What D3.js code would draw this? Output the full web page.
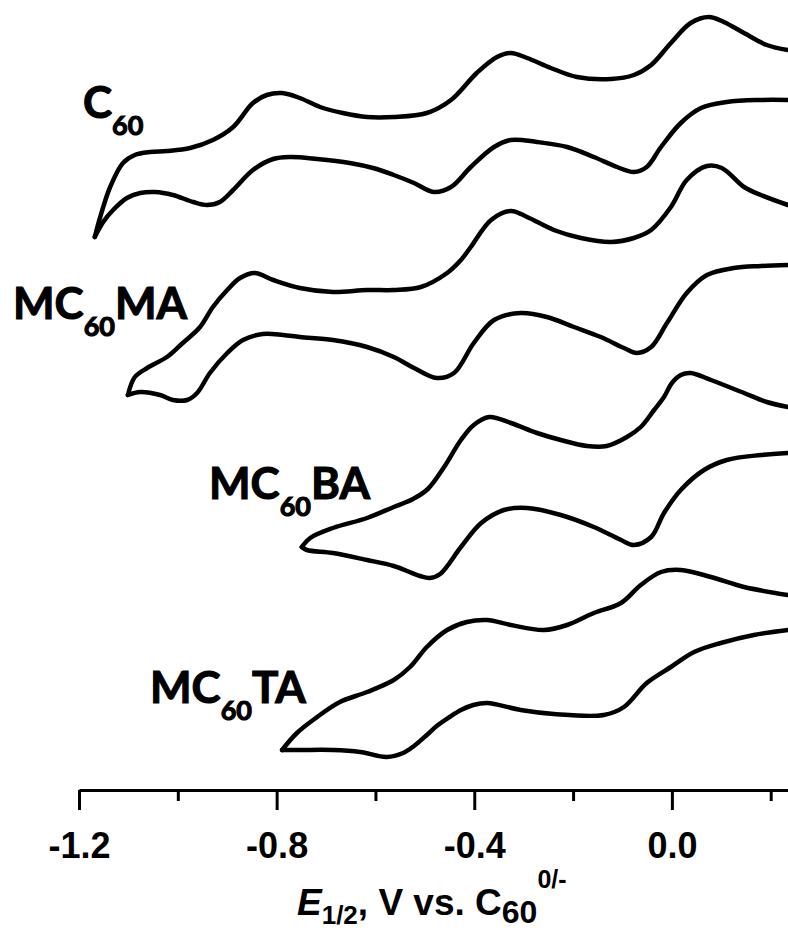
<!DOCTYPE html>
<html><head><meta charset="utf-8">
<script src="https://cdn.jsdelivr.net/npm/d3@7"></script>
<style>html,body{margin:0;padding:0;background:#fff;} svg{display:block}</style>
</head><body>
<svg id="chart" width="788" height="932"></svg>
<script>
// ---- data (potential in V vs C60 0/-, current in arbitrary units incl. stacking offset) ----
const seriesNames = ["C60", "MC60MA", "MC60BA", "MC60TA"];
const labelParts = [["C", "60", ""], ["MC", "60", "MA"], ["MC", "60", "BA"], ["MC", "60", "TA"]];

const c60Upper = [[-1.168,55.3],[-1.157,57.3],[-1.137,60.3],[-1.111,62.7],[-1.087,63.5],[-1.056,63.8],[-1.022,63.9],[-0.975,64.2],[-0.929,65.0],[-0.888,66.3],[-0.848,68.7],[-0.820,69.5],[-0.789,69.7],[-0.753,69.2],[-0.712,68.3],[-0.666,67.7],[-0.617,67.3],[-0.563,67.3],[-0.496,67.7],[-0.447,69.0],[-0.395,71.7],[-0.354,73.3],[-0.326,73.7],[-0.293,73.2],[-0.245,72.2],[-0.192,71.3],[-0.123,71.1],[-0.077,71.5],[-0.042,72.5],[-0.002,74.7],[0.038,76.7],[0.075,77.3],[0.105,76.8],[0.146,75.7],[0.192,74.5],[0.235,74.0]];
const c60Lower = [[-1.168,55.3],[-1.151,56.8],[-1.131,58.0],[-1.103,59.2],[-1.076,59.7],[-1.046,59.8],[-1.010,59.5],[-0.969,58.8],[-0.941,58.5],[-0.915,58.8],[-0.888,60.0],[-0.848,62.0],[-0.807,63.1],[-0.773,63.3],[-0.718,63.1],[-0.652,62.7],[-0.605,62.2],[-0.563,61.5],[-0.522,60.7],[-0.482,59.8],[-0.447,60.3],[-0.407,62.3],[-0.360,64.3],[-0.326,65.0],[-0.273,64.8],[-0.212,64.3],[-0.158,63.3],[-0.111,62.3],[-0.077,61.8],[-0.051,62.3],[-0.022,64.3],[0.018,66.7],[0.059,68.2],[0.111,68.8],[0.180,69.0],[0.235,69.0]];

const maUpper = [[-1.101,39.5],[-1.087,41.3],[-1.062,42.2],[-1.022,43.3],[-0.990,44.7],[-0.955,46.3],[-0.929,48.3],[-0.900,50.0],[-0.874,51.2],[-0.844,51.7],[-0.807,51.0],[-0.753,50.2],[-0.686,49.8],[-0.617,50.0],[-0.563,50.0],[-0.508,50.3],[-0.455,51.7],[-0.427,53.0],[-0.407,54.3],[-0.366,57.0],[-0.326,57.9],[-0.293,57.3],[-0.239,56.0],[-0.184,55.2],[-0.123,54.8],[-0.077,55.2],[-0.042,56.0],[-0.002,58.3],[0.030,61.0],[0.071,62.4],[0.101,62.2],[0.146,60.3],[0.180,59.5],[0.235,58.5]];
const maLower = [[-1.101,39.5],[-1.076,39.8],[-1.036,39.5],[-1.010,39.0],[-0.981,39.0],[-0.961,39.7],[-0.935,41.7],[-0.900,43.7],[-0.868,45.0],[-0.828,45.6],[-0.787,45.5],[-0.753,45.3],[-0.686,45.0],[-0.617,44.3],[-0.563,43.3],[-0.522,42.2],[-0.476,41.2],[-0.441,41.7],[-0.401,44.7],[-0.360,47.0],[-0.306,47.7],[-0.253,47.3],[-0.198,46.3],[-0.144,45.3],[-0.097,44.2],[-0.071,43.7],[-0.042,44.3],[-0.010,46.7],[0.030,49.7],[0.071,51.5],[0.125,52.2],[0.180,52.4],[0.235,52.5]];

const baUpper = [[-0.749,24.3],[-0.732,25.2],[-0.686,26.2],[-0.617,27.2],[-0.563,28.3],[-0.524,29.1],[-0.494,30.1],[-0.461,32.3],[-0.427,35.0],[-0.401,36.5],[-0.370,37.3],[-0.326,36.7],[-0.273,35.7],[-0.225,35.0],[-0.172,34.4],[-0.132,34.4],[-0.091,35.3],[-0.063,36.3],[-0.036,38.0],[-0.016,39.3],[0.000,40.7],[0.018,41.5],[0.038,41.7],[0.079,41.0],[0.146,39.7],[0.192,38.8],[0.235,38.3]];
const baLower = [[-0.749,24.3],[-0.739,24.0],[-0.686,23.7],[-0.617,23.0],[-0.563,22.4],[-0.510,21.4],[-0.490,21.2],[-0.469,21.6],[-0.427,24.3],[-0.386,26.7],[-0.340,28.0],[-0.293,28.2],[-0.225,27.5],[-0.158,26.3],[-0.103,25.0],[-0.077,24.5],[-0.042,25.3],[-0.016,27.7],[0.018,30.0],[0.065,32.0],[0.111,33.0],[0.180,33.5],[0.235,33.7]];

const taUpper = [[-0.789,4.0],[-0.759,5.7],[-0.718,7.3],[-0.672,8.8],[-0.617,9.8],[-0.563,11.0],[-0.530,12.3],[-0.496,14.3],[-0.455,16.0],[-0.415,16.8],[-0.374,17.0],[-0.326,16.5],[-0.259,16.0],[-0.212,16.5],[-0.158,17.7],[-0.103,18.7],[-0.063,20.5],[-0.022,21.8],[0.018,22.0],[0.079,21.3],[0.146,20.3],[0.235,19.5]];
const taLower = [[-0.789,4.0],[-0.753,4.0],[-0.686,4.0],[-0.631,3.8],[-0.577,3.3],[-0.544,3.7],[-0.522,4.4],[-0.496,5.5],[-0.476,6.4],[-0.450,7.3],[-0.427,8.0],[-0.402,8.5],[-0.374,8.7],[-0.306,8.0],[-0.239,7.6],[-0.138,7.5],[-0.097,8.3],[-0.051,10.7],[-0.002,12.3],[0.045,13.8],[0.099,14.7],[0.166,15.5],[0.235,16.0]];

const xMajorTicks = [-1.2, -0.8, -0.4, 0.0];
const xMinorTicks = [-1.0, -0.6, -0.2, 0.2];
const xTickLabels = ["-1.2", "-0.8", "-0.4", "0.0"];

// ---- drawing ----
const svg = d3.select("#chart");
const x = d3.scaleLinear().domain([-1.2, 0.235]).range([79, 788]);
const y = d3.scaleLinear().domain([0, 79]).range([790, 0]);

const branches = [c60Upper, c60Lower, maUpper, maLower, baUpper, baLower, taUpper, taLower];
const line = d3.line().x(d => x(d[0])).y(d => y(d[1])).curve(d3.curveCatmullRom.alpha(0.5));

svg.append("g").selectAll("path").data(branches).join("path")
  .attr("d", line)
  .attr("fill", "none").attr("stroke", "#000")
  .attr("stroke-width", 4.5).attr("stroke-linejoin", "round").attr("stroke-linecap", "round");

// axis
const axisY = y(0);
const gMajor = svg.append("g").attr("transform", `translate(0,${axisY})`)
  .call(d3.axisBottom(x).tickValues(xMajorTicks).tickSize(20).tickSizeOuter(0)
        .tickFormat((d, i) => xTickLabels[i]));
gMajor.select(".domain").attr("stroke", "#000").attr("stroke-width", 3);
gMajor.selectAll(".tick line").attr("stroke", "#000").attr("stroke-width", 3);
gMajor.selectAll(".tick text").attr("y", 68).attr("dy", 0)
  .attr("fill", "#000")
  .style("font-family", "'Liberation Sans', Arial, sans-serif")
  .style("font-weight", "bold").style("font-size", "36px");

const gMinor = svg.append("g").attr("transform", `translate(0,${axisY})`)
  .call(d3.axisBottom(x).tickValues(xMinorTicks).tickSize(11).tickSizeOuter(0).tickFormat(""));
gMinor.select(".domain").remove();
gMinor.selectAll(".tick line").attr("stroke", "#000").attr("stroke-width", 3);

// axis title
const title = svg.append("text").attr("x", 297).attr("y", 915)
  .style("font-family", "'Liberation Sans', Arial, sans-serif").style("font-weight", "bold")
  .style("font-size", "37px").attr("fill", "#000");
title.append("tspan").style("font-style", "italic").text("E");
title.append("tspan").style("font-size", "26px").attr("dy", 9).text("1/2");
title.append("tspan").attr("dy", -9).text(", V vs. C");
title.append("tspan").style("font-size", "32px").attr("dy", 8).text("60");
title.append("tspan").style("font-size", "25px").attr("dy", -35).text("0/-");

// curve labels
const labelPos = [[83, 118], [13, 319], [209, 499], [150, 703]];
labelParts.forEach((p, i) => {
  const t = svg.append("text").attr("x", labelPos[i][0]).attr("y", labelPos[i][1])
    .style("font-family", "Lato, 'Open Sans', sans-serif").style("font-weight", "bold")
    .style("font-size", "44px").attr("fill", "#000")
    .attr("stroke", "#000").attr("stroke-width", 1.1);
  t.append("tspan").text(p[0]);
  t.append("tspan").style("font-size", "27px").attr("dy", 17).text(p[1]);
  if (p[2]) t.append("tspan").attr("dy", -17).text(p[2]);
});
</script>
</body></html>
